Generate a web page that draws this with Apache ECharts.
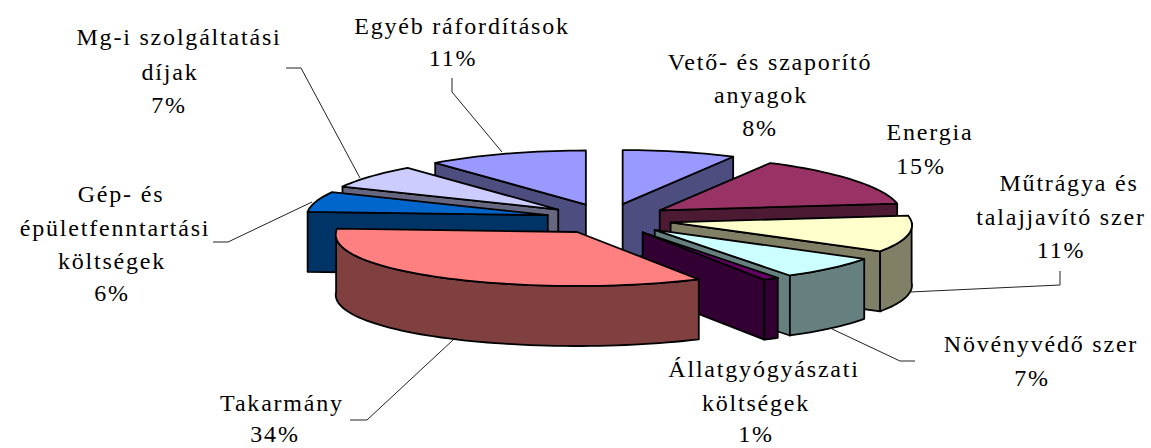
<!DOCTYPE html>
<html>
<head>
<meta charset="utf-8">
<script src="https://cdn.jsdelivr.net/npm/echarts@6/dist/echarts.min.js"></script>
<style>
    html,body{margin:0;padding:0;background:#fff;}
    #chart{width:1151px;height:448px;}
    #chart text{letter-spacing:1.8px;}
</style>
</head>
<body>
<div id="chart"></div>
<script>
// data, clockwise from 12 o'clock
var categories = ['Vető- és szaporító\nanyagok','Energia','Műtrágya és\ntalajjavító szer','Növényvédő szer',
    'Állatgyógyászati\nköltségek','Takarmány','Gép- és\népületfenntartási\nköltségek','Mg-i szolgáltatási\ndíjak','Egyéb ráfordítások'];
var values = [8,15,11,7,1,34,6,7,11];
var topColors = ['#9999FF','#993366','#FFFFCC','#CCFFFF','#660066','#FF8080','#0066CC','#CCCCFF','#9999FF'];
var wallColors = ['#4D4D80','#4D1A33','#808066','#668080','#330033','#804040','#003366','#666680','#4D4D80'];

// one [x,y] per text line, last one is the percent
var labelPlaces = [
    [[770,62],[761,95],[760,128]],
    [[930,132],[921,166]],
    [[1069,183],[1061,217],[1061,250]],
    [[1041,344],[1032,378]],
    [[764,369],[756,403],[756,434]],
    [[282,403],[275,434]],
    [[121,194],[115,228],[112,261],[112,293]],
    [[179,37],[170,72],[169,105]],
    [[462,26],[453,58]]
];
var leaderLines = [
    [[1060,271],[1060,285],[910,292]],
    [[915,361],[900,361],[830,328]],
    [[350,420],[367,420],[453,340]],
    [[213,242],[228,242],[312,202]],
    [[286,68],[301,68],[360,178]],
    [[452,78],[452,92],[502,152]]
];

// perspective: the front of the pie is a bit wider than the back, less so on the back left
var pie = {cx:609, cy:219, rx:241, ry:54, depth:60, explodeX:62.7, explodeY:15.4, perspective:0.055, backLeft:0.025, shear:2};

var slices = [];
(function(){
    var total = 0, sum = 0, i;
    for(i=0;i<values.length;i++){ total += values[i]; }
    for(i=0;i<values.length;i++){
        var start = sum/total*360;
        sum += values[i];
        var end = sum/total*360;
        slices.push({index:i, start:start, end:end, mid:(start+end)/2});
    }
})();

function rad(a){ return a*Math.PI/180; }

function apexOf(s){
    var c = Math.cos(rad(s.mid));
    return [pie.cx+Math.sin(rad(s.mid))*pie.explodeX-c*pie.shear, pie.cy-c*pie.explodeY];
}

function rimPoint(apex,a,drop){
    var c = Math.cos(rad(a)), sn = Math.sin(rad(a));
    var p = (sn<0 && c>0) ? pie.backLeft : pie.perspective;
    return [apex[0]+sn*pie.rx*(1-p*c), apex[1]-c*pie.ry+(drop||0)];
}

function arcPoints(apex,from,to,drop){
    var pts = [];
    var steps = Math.max(2,Math.ceil((to-from)/2));
    for(var i=0;i<=steps;i++){
        pts.push(rimPoint(apex,from+(to-from)*i/steps,drop));
    }
    return pts;
}

function poly(points,fill){
    return {
        type:'polygon',
        shape:{points:points},
        style:{fill:fill,stroke:'#000',lineWidth:1.8,lineJoin:'round'}
    };
}

function radialWall(apex,a,fill){
    var p = rimPoint(apex,a);
    return poly([apex,p,[p[0],p[1]+pie.depth],[apex[0],apex[1]+pie.depth]],fill);
}

function renderSlice(params,api){
    var s = slices[api.value(0)];
    var apex = apexOf(s);
    var wall = wallColors[s.index];
    var children = [];

    // only the cut faces that look at the viewer
    if(s.start>180 && s.start<360){ children.push(radialWall(apex,s.start,wall)); }
    if(s.end>0 && s.end<180){ children.push(radialWall(apex,s.end,wall)); }

    // outer rim, front half only
    var from = Math.max(s.start,90), to = Math.min(s.end,270);
    if(to>from){
        var rim = arcPoints(apex,from,to).concat(arcPoints(apex,from,to,pie.depth).reverse());
        children.push(poly(rim,wall));
    }

    var top = [apex].concat(arcPoints(apex,s.start,s.end));
    children.push(poly(top,topColors[s.index]));

    return {type:'group',children:children};
}

// back slices first so the front ones cover them, the slice over 6 o'clock goes last
function depthKey(s){
    if(s.start<=180 && s.end>=180){ return 0; }
    return Math.abs(s.mid-180);
}
var drawOrder = slices.slice().sort(function(a,b){
    return depthKey(b)-depthKey(a);
}).map(function(s){ return [s.index,values[s.index]]; });

var graphics = [];
leaderLines.forEach(function(line){
    graphics.push({
        type:'polyline',
        shape:{points:line},
        style:{fill:null,stroke:'#222',lineWidth:1},
        z:5
    });
});
categories.forEach(function(name,i){
    var lines = name.split('\n').concat([values[i]+'%']);
    lines.forEach(function(text,k){
        graphics.push({
            type:'text',
            x:labelPlaces[i][k][0],
            y:labelPlaces[i][k][1],
            style:{
                text:text,
                fontFamily:'"Liberation Serif", serif',
                fontSize:24,
                fill:'#000',
                align:'center',
                verticalAlign:'middle'
            },
            z:6
        });
    });
});

var chart = echarts.init(document.getElementById('chart'),null,{renderer:'svg'});
chart.setOption({
    animation:false,
    backgroundColor:'#fff',
    graphic:graphics,
    series:[{
        type:'custom',
        coordinateSystem:'none',
        renderItem:renderSlice,
        data:drawOrder,
        silent:true
    }]
});
</script>
</body>
</html>
